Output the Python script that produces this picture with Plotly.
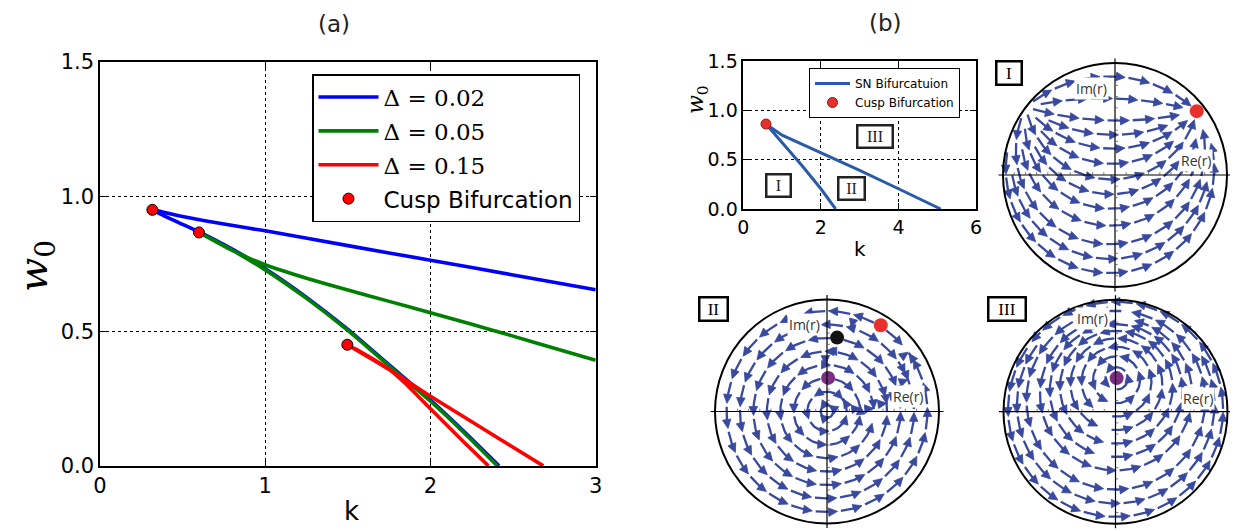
import numpy as np
import plotly.graph_objects as go

# ---------------- panel (a): SN branches for three widths ----------------
d002_upper_k = [0.317, 0.5, 0.75, 1.0, 1.5, 2.0, 2.5, 3.0]
d002_upper_w = [0.951, 0.926, 0.898, 0.873, 0.818, 0.764, 0.709, 0.654]
d002_lower_k = [0.317, 0.45, 0.599, 0.8, 1.0, 1.25, 1.5, 1.75, 2.0, 2.2, 2.415]
d002_lower_w = [0.951, 0.911, 0.869, 0.805, 0.732, 0.626, 0.507, 0.375, 0.244, 0.129, 0.0]

d005_upper_k = [0.599, 0.8, 1.0, 1.25, 1.5, 1.75, 2.0, 2.25, 2.5, 2.75, 3.0]
d005_upper_w = [0.867, 0.800, 0.747, 0.697, 0.653, 0.611, 0.569, 0.526, 0.482, 0.437, 0.392]
d005_lower_k = [0.599, 0.8, 1.0, 1.25, 1.5, 1.75, 2.0, 2.2, 2.405]
d005_lower_w = [0.867, 0.801, 0.728, 0.622, 0.503, 0.371, 0.240, 0.125, 0.0]

d015_upper_k = [1.497, 1.63, 1.755, 2.0, 2.25, 2.5, 2.683]
d015_upper_w = [0.450, 0.402, 0.356, 0.259, 0.164, 0.069, 0.0]
d015_lower_k = [1.497, 1.63, 1.755, 1.85, 2.0, 2.2, 2.351]
d015_lower_w = [0.450, 0.405, 0.356, 0.305, 0.212, 0.090, 0.0]

cusp_k = [0.317, 0.599, 1.497]
cusp_w = [0.951, 0.867, 0.450]

series_names = ["Δ = 0.02", "Δ = 0.05", "Δ = 0.15"]
series_colors = ["#0000FF", "#008000", "#FF0000"]

# ---------------- inset: SN lines for the portrait diagram ----------------
sn_lower_k = [0.585, 1.0, 1.5, 2.0, 2.38]
sn_lower_w = [0.861, 0.675, 0.445, 0.205, 0.0]
sn_upper_k = [0.585, 1.0, 2.0, 3.0, 4.0, 5.09]
sn_upper_w = [0.861, 0.748, 0.573, 0.392, 0.205, 0.0]
inset_cusp_k = [0.585]
inset_cusp_w = [0.861]
region_text = ["I", "II", "III"]
region_k = [0.90, 2.78, 3.40]
region_w = [0.235, 0.204, 0.733]

# ---------------- phase portraits: fixed points ----------------
I_sink = complex(0.73, 0.57)
I_source = complex(-0.795, 0.605)
II_focus = complex(0.01, 0.30)
II_saddle = complex(0.09, 0.66)
II_node = complex(0.48, 0.77)
III_focus = complex(0.01, 0.30)

STREAM = "#3949A0"
RED = "#E8312C"
PURPLE = "#7B2D82"

# the page body adds an 8 px offset; the figure is laid out in reference pixels
OFF = 8
W, H = 1238 - OFF, 531 - OFF


def px(x):
    return (x - OFF) / W


def py(y):
    return 1 - (y - OFF) / H


# ---------------- vector fields ----------------
lamI = -abs(I_sink - I_source) / (I_sink - I_source)


def fI(z):
    return lamI * (z - I_sink) * (z - I_source)


III_mirror = 1 / np.conj(III_focus)
lamIII = 1j / (III_focus - III_mirror)


def fIII(z):
    return lamIII * (z - III_focus) * (z - III_mirror)


def basisII(z):
    m = 1 - abs(z) ** 2
    return [1j * z, (1 - z * z) / 2, 1j * (1 + z * z) / 2, m, 1j * m, m * z, 1j * m * z]


rows = []
for p in (II_focus, II_saddle, II_node):
    b = basisII(p)
    rows.append([c.real for c in b])
    rows.append([c.imag for c in b])
_, _, Vt = np.linalg.svd(np.array(rows))
uII = Vt[-1]


def fII_raw(z):
    return sum(u * b for u, b in zip(uII, basisII(z)))


zb = -0.95j
signII = 1.0 if (np.conj(zb) * fII_raw(zb)).imag > 0 else -1.0


def fII(z):
    return signII * fII_raw(z)


# ---------------- evenly spaced streamlines ----------------
def build_streams(f, fixed, dsep=0.12, h=0.01, rmax=0.985, max_steps=900, lag=45):
    dtest = 0.45 * dsep
    cell = dsep
    grid = {}
    lines = []

    def key(z):
        return (int(np.floor(z.real / cell)), int(np.floor(z.imag / cell)))

    def blocked(z, d, lid=-1, idx=0):
        kx, ky = key(z)
        for i in (kx - 1, kx, kx + 1):
            for j in (ky - 1, ky, ky + 1):
                for pz, plid, pidx in grid.get((i, j), ()):
                    if plid == lid and abs(pidx - idx) < lag:
                        continue
                    if abs(pz - z) < d:
                        return True
        return False

    def unit(z):
        v = f(z)
        a = abs(v)
        return None if a < 1e-12 else v / a

    def near_fixed(z, r=0.05):
        return any(abs(z - p) < r for p in fixed)

    def run(z0, sgn, lid):
        out = []
        z = z0
        idx = 0
        for _ in range(max_steps):
            d1 = unit(z)
            if d1 is None:
                break
            d2 = unit(z + 0.5 * h * sgn * d1)
            if d2 is None:
                break
            zn = z + h * sgn * d2
            idx += sgn
            if abs(zn) > rmax or near_fixed(zn) or blocked(zn, dtest, lid, idx):
                break
            grid.setdefault(key(zn), []).append((zn, lid, idx))
            out.append(zn)
            z = zn
        return out

    def seed(z):
        if abs(z) > rmax - 0.01 or near_fixed(z, 0.08) or blocked(z, 0.95 * dsep):
            return None
        lid = len(lines)
        grid.setdefault(key(z), []).append((z, lid, 0))
        fw = run(z, 1, lid)
        bw = run(z, -1, lid)
        line = bw[::-1] + [z] + fw
        lines.append(line)
        return line

    cands = [complex(x, y) for x in np.arange(-1, 1.0001, dsep) for y in np.arange(-1, 1.0001, dsep)]
    cands.sort(key=lambda c: (round(abs(c), 6), float(np.angle(c))))
    for c in cands:
        first = seed(c)
        if first is None:
            continue
        queue = [first]
        while queue:
            ln = queue.pop(0)
            for i in range(1, len(ln) - 1, 3):
                t = ln[i + 1] - ln[i - 1]
                if abs(t) == 0:
                    continue
                nrm = 1j * t / abs(t)
                for s in (1, -1):
                    new = seed(ln[i] + s * dsep * nrm)
                    if new is not None:
                        queue.append(new)
    return lines


def build_arrows(lines, period=0.225, length=0.195, hl=0.08, hw=0.038, start=0.01):
    lx, ly, hx, hy = [], [], [], []
    for ln in lines:
        P = np.array(ln)
        if len(P) < 4:
            continue
        s = np.concatenate([[0.0], np.cumsum(np.abs(np.diff(P)))])
        total = s[-1]

        def at(q):
            return complex(np.interp(q, s, P.real), np.interp(q, s, P.imag))

        a = start
        while total - a >= 0.1:
            b = min(a + length, total)
            tip = at(b)
            d = tip - at(b - 0.03)
            if abs(d) == 0:
                a += period
                continue
            d /= abs(d)
            base = tip - hl * d
            e = b - hl * 0.7
            qs = list(np.arange(a, e, 0.01)) + [e]
            for q in qs:
                z = at(q)
                lx.append(z.real)
                ly.append(z.imag)
            lx.append(None)
            ly.append(None)
            n = 1j * d
            for z in (tip, base + hw * n, base - hw * n, tip):
                hx.append(z.real)
                hy.append(z.imag)
            hx.append(None)
            hy.append(None)
            a += period
    return lx, ly, hx, hy


fig = go.Figure()

# ---------------- panel (a) traces ----------------
branches = [
    (d002_upper_k, d002_upper_w, d002_lower_k, d002_lower_w),
    (d005_upper_k, d005_upper_w, d005_lower_k, d005_lower_w),
    (d015_upper_k, d015_upper_w, d015_lower_k, d015_lower_w),
]
for (ku, wu, kl, wl), nm, col in zip(branches, series_names, series_colors):
    fig.add_trace(go.Scatter(
        x=list(reversed(kl)) + ku[1:], y=list(reversed(wl)) + wu[1:],
        mode="lines", line=dict(color=col, width=3.6, shape="spline", smoothing=0.5),
        name="<span style='font-family:DejaVu Serif'>" + nm + "</span>",
        legend="legend", legendgroup=nm, xaxis="x", yaxis="y", hoverinfo="skip"))
fig.add_trace(go.Scatter(
    x=cusp_k, y=cusp_w, mode="markers", name="Cusp Bifurcation",
    marker=dict(color="#FF0000", size=11, line=dict(color="black", width=1)),
    legend="legend", legendgroup="cusp", xaxis="x", yaxis="y", hoverinfo="skip"))

# ---------------- inset traces ----------------
fig.add_trace(go.Scatter(
    x=list(reversed(sn_lower_k)) + sn_upper_k[1:], y=list(reversed(sn_lower_w)) + sn_upper_w[1:],
    mode="lines", line=dict(color="#2A5BA8", width=3), name="SN Bifurcatuion",
    legend="legend2", legendgroup="sn", xaxis="x2", yaxis="y2", hoverinfo="skip"))
fig.add_trace(go.Scatter(
    x=inset_cusp_k, y=inset_cusp_w, mode="markers", name="Cusp Bifurcation",
    marker=dict(color=RED, size=10, line=dict(color="#8B1A12", width=1)),
    legend="legend2", legendgroup="cusp2", xaxis="x2", yaxis="y2", hoverinfo="skip"))

# ---------------- phase portraits ----------------
S = 112.0
portraits = [
    dict(ax="3", f=fI, fixed=[I_sink, I_source], cx=1115.0, cy=175.0, yr=[-1.09, 1.09],
         dots=[(I_sink, RED)], im=(-0.21, 0.774), re=(0.72, 0.125)),
    dict(ax="4", f=fII, fixed=[II_focus, II_saddle, II_node], cx=827.0, cy=411.5, yr=[-1.066, 1.09],
         dots=[(II_focus, PURPLE), (II_saddle, "#111111"), (II_node, RED)], im=(-0.20, 0.775), re=(0.725, 0.13)),
    dict(ax="5", f=fIII, fixed=[III_focus], cx=1115.5, cy=411.7, yr=[-1.064, 1.09],
         dots=[(III_focus, PURPLE)], im=(-0.205, 0.83), re=(0.735, 0.12)),
]

CENTER = dict(xanchor="center", yanchor="middle")
shapes = []
annotations = []
axis_layout = {}
for P in portraits:
    xa, ya = "x" + P["ax"], "y" + P["ax"]
    lines = build_streams(P["f"], P["fixed"])
    lx, ly, hx, hy = build_arrows(lines)
    fig.add_trace(go.Scatter(x=lx, y=ly, mode="lines", line=dict(color=STREAM, width=2.3),
                             showlegend=False, xaxis=xa, yaxis=ya, hoverinfo="skip"))
    fig.add_trace(go.Scatter(x=hx, y=hy, mode="lines", fill="toself", fillcolor=STREAM,
                             line=dict(color=STREAM, width=0.8),
                             showlegend=False, xaxis=xa, yaxis=ya, hoverinfo="skip"))
    for z, col in P["dots"]:
        fig.add_trace(go.Scatter(x=[z.real], y=[z.imag], mode="markers",
                                 marker=dict(color=col, size=14, line=dict(width=0)),
                                 showlegend=False, xaxis=xa, yaxis=ya, hoverinfo="skip"))
    xr = [-1.09, 1.09]
    yr = P["yr"]
    xd = [max(0.0, px(P["cx"] + xr[0] * S)), min(1.0, px(P["cx"] + xr[1] * S))]
    yd = [max(0.0, py(P["cy"] - yr[0] * S)), min(1.0, py(P["cy"] - yr[1] * S))]
    axis_layout["xaxis" + P["ax"]] = dict(domain=xd, range=xr, visible=False, anchor=ya)
    axis_layout["yaxis" + P["ax"]] = dict(domain=yd, range=yr, visible=False, anchor=xa)
    shapes.append(dict(type="line", xref=xa, yref=ya, x0=-1.04, x1=1.04, y0=0, y1=0,
                       line=dict(color="black", width=1.2), layer="above"))
    shapes.append(dict(type="line", xref=xa, yref=ya, x0=0, x1=0, y0=-1.04, y1=1.04,
                       line=dict(color="black", width=1.2), layer="above"))
    for t in np.arange(-1.0, 1.0001, 0.1):
        if abs(t) < 1e-9:
            continue
        shapes.append(dict(type="line", xref=xa, yref=ya, x0=t, x1=t, y0=0, y1=0.025,
                           line=dict(color="#555555", width=0.8), layer="above"))
        shapes.append(dict(type="line", xref=xa, yref=ya, x0=0, x1=0.025, y0=t, y1=t,
                           line=dict(color="#555555", width=0.8), layer="above"))
    shapes.append(dict(type="circle", xref=xa, yref=ya, x0=-1, x1=1, y0=-1, y1=1,
                       line=dict(color="black", width=2), layer="above"))
    for txt, pos in (("Im(r)", P["im"]), ("Re(r)", P["re"])):
        annotations.append(dict(text=txt, x=pos[0], y=pos[1], xref=xa, yref=ya, showarrow=False,
                                font=dict(family="Open Sans", size=14, color="#333333"),
                                bgcolor="white", borderpad=1, **CENTER))

# roman numeral boxes on portraits
box_font = dict(family="Liberation Serif", size=17, color="black")
for txt, (bx, by), wdt in (("I", (1008.8, 73.3), 19), ("II", (713.3, 308.5), 22), ("III", (1006.7, 308.8), 31)):
    annotations.append(dict(text=txt, x=px(bx), y=py(by), xref="paper", yref="paper", showarrow=False,
                            font=box_font, bordercolor="black", borderwidth=2.5, borderpad=2,
                            bgcolor="white", width=wdt, height=17, **CENTER))
# region boxes in inset
for txt, k, w0, wdt in zip(region_text, region_k, region_w, (18, 20, 29)):
    annotations.append(dict(text=txt, x=k, y=w0, xref="x2", yref="y2", showarrow=False,
                            font=dict(family="Liberation Serif", size=16, color="#222222"),
                            bordercolor="#222222", borderwidth=2.5, borderpad=2,
                            bgcolor="white", width=wdt, height=16, **CENTER))

# titles and axis labels
annotations += [
    dict(text="(a)", x=px(334), y=py(24), xref="paper", yref="paper", showarrow=False,
         font=dict(family="DejaVu Sans", size=23, color="#222222"), **CENTER),
    dict(text="(b)", x=px(885), y=py(23), xref="paper", yref="paper", showarrow=False,
         font=dict(family="DejaVu Sans", size=23, color="#222222"), **CENTER),
    dict(text="k", x=px(351), y=py(511), xref="paper", yref="paper", showarrow=False,
         font=dict(family="DejaVu Sans", size=26, color="black"), **CENTER),
    dict(text="<i>w</i><sub>0</sub>", x=px(36), y=py(266), xref="paper", yref="paper", showarrow=False,
         textangle=-90, font=dict(family="DejaVu Serif", size=40, color="black"), **CENTER),
    dict(text="k", x=px(860), y=py(249), xref="paper", yref="paper", showarrow=False,
         font=dict(family="DejaVu Sans", size=20, color="black"), **CENTER),
    dict(text="<i>w</i><sub>0</sub>", x=px(697), y=py(100), xref="paper", yref="paper", showarrow=False,
         textangle=-90, font=dict(family="DejaVu Serif", size=22, color="black"), **CENTER),
]

frame = dict(showline=True, linecolor="black", linewidth=1.5, mirror="ticks", ticks="inside",
             ticklen=6, tickwidth=1, tickcolor="black", showgrid=True, gridcolor="black",
             griddash="dot", gridwidth=1, zeroline=False, automargin=False)

fig.update_layout(
    width=W, height=H, margin=dict(l=0, r=0, t=0, b=0, pad=0, autoexpand=False),
    paper_bgcolor="white", plot_bgcolor="white",
    xaxis=dict(domain=[px(100), px(595.7)], range=[0, 3], tickvals=[0, 1, 2, 3],
               ticktext=["0", "1", "2", "3"], tickfont=dict(family="DejaVu Sans", size=21, color="black"),
               anchor="y", **frame),
    yaxis=dict(domain=[py(465.9), py(62)], range=[0, 1.5], tickvals=[0, 0.5, 1.0, 1.5],
               ticktext=["0.0", "0.5", "1.0", "1.5"], tickfont=dict(family="DejaVu Sans", size=21, color="black"),
               anchor="x", **frame),
    xaxis2=dict(domain=[px(743.3), px(976)], range=[0, 6], tickvals=[0, 2, 4, 6],
                ticktext=["0", "2", "4", "6"], tickfont=dict(family="DejaVu Sans", size=19, color="black"),
                anchor="y2", **frame),
    yaxis2=dict(domain=[py(209), py(61)], range=[0, 1.5], tickvals=[0, 0.5, 1.0, 1.5],
                ticktext=["0.0", "0.5", "1.0", "1.5"], tickfont=dict(family="DejaVu Sans", size=19, color="black"),
                anchor="x2", **frame),
    legend=dict(x=px(312), y=py(74), xanchor="left", yanchor="top", bgcolor="white",
                bordercolor="black", borderwidth=1.5, font=dict(family="DejaVu Sans", size=23, color="black"),
                itemwidth=60, tracegroupgap=1),
    legend2=dict(x=px(809), y=py(68), xanchor="left", yanchor="top", bgcolor="white",
                 bordercolor="black", borderwidth=1, font=dict(family="DejaVu Sans", size=12, color="black"),
                 itemwidth=35, tracegroupgap=0),
    shapes=shapes, annotations=annotations, showlegend=True,
    **axis_layout,
)

fig.write_html("out.html")
